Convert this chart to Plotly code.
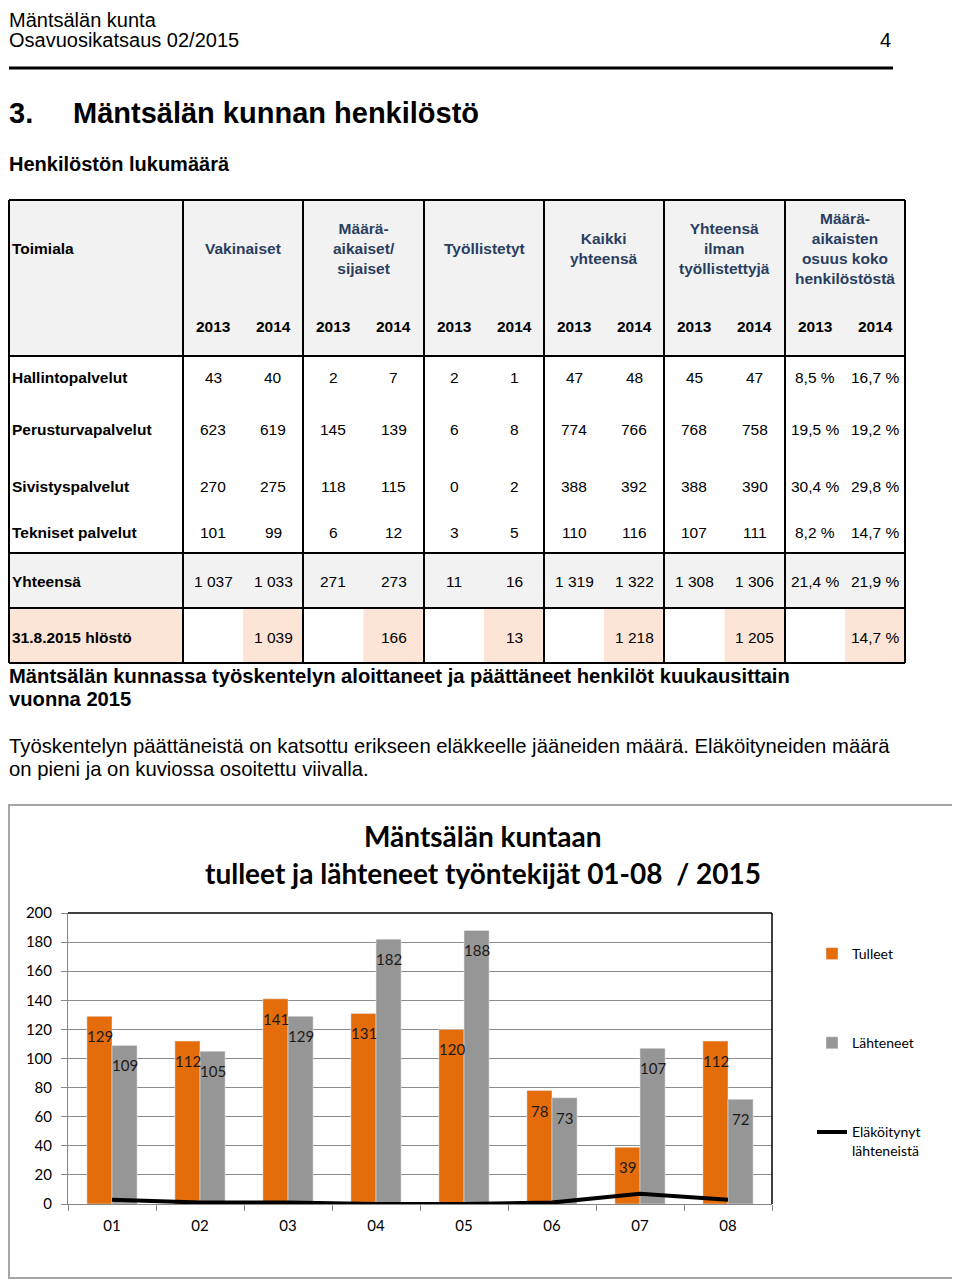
import plotly.graph_objects as go

W, H = 960, 1281
OFF = 8  # the page body margin shifts the figure by 8px


def fx(px):
    return (px - OFF) / W


def fy(py):
    return 1 - (py - OFF) / H


# ---- table data ----
toimialat = ["Hallintopalvelut", "Perusturvapalvelut", "Sivistyspalvelut",
             "Tekniset palvelut", "Yhteensä"]
sarakkeet = ["Vakinaiset", "Määrä-<br>aikaiset/<br>sijaiset", "Työllistetyt",
             "Kaikki<br>yhteensä", "Yhteensä<br>ilman<br>työllistettyjä",
             "Määrä-<br>aikaisten<br>osuus koko<br>henkilöstöstä"]
vuodet = ["2013", "2014"]

vakinaiset_2013 = [43, 623, 270, 101, 1037]
vakinaiset_2014 = [40, 619, 275, 99, 1033]
maaraaikaiset_2013 = [2, 145, 118, 6, 271]
maaraaikaiset_2014 = [7, 139, 115, 12, 273]
tyollistetyt_2013 = [2, 6, 0, 3, 11]
tyollistetyt_2014 = [1, 8, 2, 5, 16]
kaikki_2013 = [47, 774, 388, 110, 1319]
kaikki_2014 = [48, 766, 392, 116, 1322]
ilman_2013 = [45, 768, 388, 107, 1308]
ilman_2014 = [47, 758, 390, 111, 1306]
osuus_2013 = [8.5, 19.5, 30.4, 8.2, 21.4]
osuus_2014 = [16.7, 19.2, 29.8, 14.7, 21.9]

hlosto_rivi = "31.8.2015 hlöstö"
hlosto_2015 = [1039, 166, 13, 1218, 1205, 14.7]

# ---- chart data ----
kuukaudet = ["01", "02", "03", "04", "05", "06", "07", "08"]
tulleet = [129, 112, 141, 131, 120, 78, 39, 112]
lahteneet = [109, 105, 129, 182, 188, 73, 107, 72]
elakoityneet = [3, 1, 1, 0, 0, 1, 7, 3]


def fmt_int(v):
    return f"{v:,}".replace(",", " ")


def fmt_pct(v):
    return f"{v:.1f} %".replace(".", ",")


ARIAL = "Liberation Sans, Arial, sans-serif"
CALIBRI = "Lato, Carlito, Calibri, sans-serif"
ORANGE = "#E46C0A"
GREY = "#969696"
HEAD_BG = "#F2F2F2"
PEACH = "#FCE4D6"

fig = go.Figure()

fig.add_trace(go.Bar(x=kuukaudet, y=tulleet, name="Tulleet", marker_color=ORANGE,
                     legendgroup="t", hoverinfo="y"))
fig.add_trace(go.Bar(x=kuukaudet, y=lahteneet, name="Lähteneet", marker_color=GREY,
                     legendgroup="l", hoverinfo="y"))
fig.add_trace(go.Scatter(x=kuukaudet, y=elakoityneet, mode="lines",
                         name="Eläköitynyt<br>lähteneistä",
                         line=dict(color="black", width=4), legendgroup="e"))

ann = []
shapes = []


def text(x, y, s, size, bold=False, anchor="left", family=ARIAL, color="black"):
    ann.append(dict(x=fx(x), y=fy(y), xref="paper", yref="paper", text=f"<b>{s}</b>" if bold else s,
                    showarrow=False, xanchor=anchor, yanchor="middle",
                    font=dict(family=family, size=size, color=color)))


def rect(x0, y0, x1, y1, fill):
    shapes.append(dict(type="rect", xref="paper", yref="paper", x0=fx(x0), x1=fx(x1),
                       y0=fy(y0), y1=fy(y1), fillcolor=fill, layer="below",
                       line=dict(width=0)))


def hline(x0, x1, y, width=2, color="black"):
    shapes.append(dict(type="line", xref="paper", yref="paper", x0=fx(x0), x1=fx(x1),
                       y0=fy(y), y1=fy(y), line=dict(color=color, width=width)))


def vline(x, y0, y1, width=2, color="black"):
    shapes.append(dict(type="line", xref="paper", yref="paper", x0=fx(x), x1=fx(x),
                       y0=fy(y0), y1=fy(y1), line=dict(color=color, width=width)))


# ---- page header ----
LEFT = 7
text(LEFT, 20, "Mäntsälän kunta", 20)
text(LEFT, 40, "Osavuosikatsaus 02/2015", 20)
text(885, 40, "4", 20, anchor="center")
hline(9, 893, 68, width=3)
text(LEFT, 113, "3.", 29, bold=True)
text(71, 113, "Mäntsälän kunnan henkilöstö", 29, bold=True)
text(LEFT, 164, "Henkilöstön lukumäärä", 20, bold=True)

# ---- table ----
col_edges = [9, 183, 303, 424, 544, 664, 785, 905]
row_lines = [200, 356, 553, 608, 663]
data_y = [377, 430, 487, 532, 581]
last_y = 637

rect(9, 200, 905, 356, HEAD_BG)
rect(9, 553, 905, 608, HEAD_BG)
rect(9, 608, 183, 663, PEACH)
for a, b in zip(col_edges[1:-1], col_edges[2:]):
    rect((a + b) / 2, 608, b, 663, PEACH)

for y in row_lines:
    hline(9, 905, y)
for x in col_edges:
    vline(x, 200, 663)

text(10, 249, "Toimiala", 15.5, bold=True)
groups = [
    (vakinaiset_2013, vakinaiset_2014, fmt_int),
    (maaraaikaiset_2013, maaraaikaiset_2014, fmt_int),
    (tyollistetyt_2013, tyollistetyt_2014, fmt_int),
    (kaikki_2013, kaikki_2014, fmt_int),
    (ilman_2013, ilman_2014, fmt_int),
    (osuus_2013, osuus_2014, fmt_pct),
]
for g, (name, (v13, v14, f)) in enumerate(zip(sarakkeet, groups)):
    a, b = col_edges[g + 1], col_edges[g + 2]
    c13, c14 = a + (b - a) * 0.25, a + (b - a) * 0.75
    ann.append(dict(x=fx((a + b) / 2), y=fy(249), xref="paper", yref="paper",
                    text=f"<b>{name}</b>", showarrow=False, xanchor="center",
                    yanchor="middle", font=dict(family=ARIAL, size=15.5)))
    text(c13, 326, vuodet[0], 15.5, bold=True, anchor="center")
    text(c14, 326, vuodet[1], 15.5, bold=True, anchor="center")
    for i, y in enumerate(data_y):
        text(c13, y, f(v13[i]), 15.5, anchor="center")
        text(c14, y, f(v14[i]), 15.5, anchor="center")
    text(c14, last_y, f(hlosto_2015[g]), 15.5, anchor="center")

for i, y in enumerate(data_y):
    text(10, y, toimialat[i], 15.5, bold=True)
text(10, last_y, hlosto_rivi, 15.5, bold=True)

# ---- text below table ----
text(LEFT, 676, "Mäntsälän kunnassa työskentelyn aloittaneet ja päättäneet henkilöt kuukausittain", 20.2, bold=True)
text(LEFT, 699, "vuonna 2015", 20.2, bold=True)
text(LEFT, 746, "Työskentelyn päättäneistä on katsottu erikseen eläkkeelle jääneiden määrä. Eläköityneiden määrä", 20.3)
text(LEFT, 769, "on pieni ja on kuviossa osoitettu viivalla.", 20.3)

# ---- chart frame & title ----
shapes.append(dict(type="rect", xref="paper", yref="paper", x0=fx(9), x1=fx(958),
                   y0=fy(1278), y1=fy(805), line=dict(color="#A6A6A6", width=2), layer="below"))
text(483, 836, "Mäntsälän kuntaan", 28, bold=True, anchor="center", family=CALIBRI)
text(483, 873, "tulleet ja lähteneet työntekijät 01-08  / 2015", 28, bold=True, anchor="center", family=CALIBRI)

# plot area top/right border
shapes.append(dict(type="line", xref="x domain", yref="y domain", x0=0, x1=1, y0=1, y1=1,
                   line=dict(color="black", width=1.5)))
shapes.append(dict(type="line", xref="x domain", yref="y domain", x0=1, x1=1, y0=0, y1=1,
                   line=dict(color="black", width=1.5)))

# bar labels (category index on x so "01" is not read as the number 1)
for i, v in enumerate(tulleet):
    ann.append(dict(x=i, y=v, xref="x", yref="y", text=str(v), showarrow=False,
                    xshift=-12.5, yshift=-20, yanchor="middle",
                    font=dict(family=CALIBRI, size=15, color="#1a1a1a")))
for i, v in enumerate(lahteneet):
    ann.append(dict(x=i, y=v, xref="x", yref="y", text=str(v), showarrow=False,
                    xshift=12.5, yshift=-20, yanchor="middle",
                    font=dict(family=CALIBRI, size=15, color="#1a1a1a")))

fig.update_layout(
    width=W, height=H, autosize=False,
    margin=dict(l=0, r=0, t=0, b=0, autoexpand=False),
    paper_bgcolor="white", plot_bgcolor="white",
    barmode="group", bargap=0.43, bargroupgap=0,
    showlegend=True,
    legend=dict(x=fx(812), y=fy(938), xanchor="left", yanchor="top",
                font=dict(family=CALIBRI, size=14, color="black"),
                tracegroupgap=68, valign="top", bgcolor="rgba(0,0,0,0)"),
    xaxis=dict(domain=[fx(68), fx(772)], type="category", showgrid=False,
               showline=True, linecolor="#868686", linewidth=1,
               ticks="outside", tickson="boundaries", ticklen=6, tickcolor="#868686",
               ticklabelstandoff=8,
               tickfont=dict(family=CALIBRI, size=15, color="black"), fixedrange=True),
    yaxis=dict(domain=[fy(1204), fy(913)], range=[0, 200], dtick=20,
               showgrid=True, gridcolor="#8C8C8C", gridwidth=1, zeroline=False,
               showline=True, linecolor="#868686", linewidth=1,
               ticks="outside", ticklen=6, tickcolor="#868686", ticklabelstandoff=6,
               tickfont=dict(family=CALIBRI, size=15, color="black"), fixedrange=True),
    annotations=ann,
    shapes=shapes,
)

fig.write_html("out.html")
